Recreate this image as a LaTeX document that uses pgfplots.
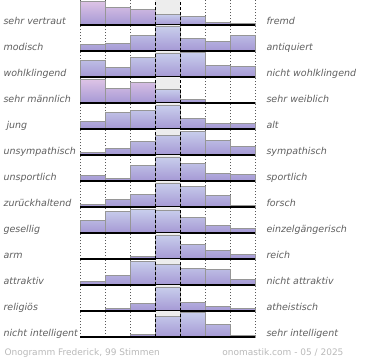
\documentclass[border=0pt]{standalone}
\usepackage{pgfplots}
\pgfplotsset{compat=1.18}
\usepackage{fontspec}
\setmainfont{DejaVu Sans}
\definecolor{barA}{RGB}{200,206,236}
\definecolor{barM}{RGB}{190,195,230}
\definecolor{barB}{RGB}{165,152,212}
\definecolor{pinkA}{RGB}{222,196,230}
\definecolor{pinkM}{RGB}{200,190,228}
\definecolor{midbg}{RGB}{237,237,237}
\definecolor{edge}{RGB}{150,150,150}
\definecolor{lbl}{RGB}{95,95,95}
\definecolor{foot}{RGB}{185,185,185}
\pgfplotsset{rowax/.style={width=175pt,height=26pt,scale only axis,
  xmin=0,xmax=7,ymin=0,ymax=26,hide axis,anchor=south west,clip=false}}
\newcommand{\rowplot}[6]{%
\begin{axis}[rowax, at={(80pt,{-(25+26*(#1-1))*1pt})}]
\addplot[fill=midbg,draw=none] coordinates {(3,0)(3,26)(4,26)(4,0)} \closedcycle;
\foreach \xx in {0,1,2,5,6,7}{
\addplot[gray!70!black,dash pattern=on 1pt off 2pt,line width=0.5pt] coordinates {(\xx,0)(\xx,26)};}
\addplot[ybar,bar width=1,bar shift=0pt,top color=barA,middle color=barM,bottom color=barB,draw=edge,line width=0.6pt] coordinates {#2};
\addplot[ybar,bar width=1,bar shift=0pt,top color=pinkA,middle color=pinkM,bottom color=barB,draw=edge,line width=0.6pt] coordinates {#3};
\addplot[black,dash pattern=on 3pt off 2pt,line width=0.7pt] coordinates {(3,0)(3,26)};
\addplot[black,dash pattern=on 3pt off 2pt,line width=0.7pt] coordinates {(4,0)(4,26)};
\addplot[black,line width=1.3pt] coordinates {#6};
\end{axis}
\node[anchor=base west,text=lbl,font=\itshape\fontsize{9.5}{11}\selectfont] at (0pt,{-(24+26*(#1-1))*1pt}) {#4};
\node[anchor=base west,text=lbl,font=\itshape\fontsize{9.5}{11}\selectfont] at (263pt,{-(24+26*(#1-1))*1pt}) {#5};
}
\begin{document}
\begin{tikzpicture}
\path[use as bounding box] (0,0) rectangle (370pt,-360pt);
\rowplot{1}{(3.5,10.7)(4.5,9)(5.5,2.3)(6.5,1.3)}{(0.5,24)(1.5,17.7)(2.5,15.3)}{sehr vertraut}{fremd}{(0,0)(7,0)}
\rowplot{2}{(0.5,6.3)(1.5,7.7)(2.5,16)(3.5,24.7)(4.5,13)(5.5,10)(6.5,15.3)}{}{modisch}{antiquiert}{(0,0)(7,0)}
\rowplot{3}{(0.5,16.7)(1.5,9.7)(2.5,19.7)(3.5,23.7)(4.5,24.3)(5.5,11.3)(6.5,10.3)}{}{wohlklingend}{nicht wohlklingend}{(0,0)(7,0)}
\rowplot{4}{(3.5,14)(4.5,3.7)(6.5,0.3)}{(0.5,24)(1.5,14.7)(2.5,20.7)}{sehr männlich}{sehr weiblich}{(0,0)(5,0)(5,nan)(6,nan)(6,0)(7,0)}
\rowplot{5}{(0.5,8)(1.5,17)(2.5,19)(3.5,23.3)(4.5,10.3)(5.5,6)(6.5,5.7)}{}{\hspace{3pt}jung}{alt}{(0,0)(7,0)}
\rowplot{6}{(0.5,2.7)(1.5,7)(2.5,13.7)(3.5,19.3)(4.5,23.7)(5.5,14.7)(6.5,8.7)}{}{unsympathisch}{sympathisch}{(0,0)(7,0)}
\rowplot{7}{(0.5,6)(1.5,2.7)(2.5,16)(3.5,24)(4.5,18)(5.5,7.7)(6.5,7)}{}{unsportlich}{sportlich}{(0,0)(7,0)}
\rowplot{8}{(0.5,2.3)(1.5,7.3)(2.5,12.7)(3.5,24)(4.5,20.3)(5.5,11.3)(6.5,2)}{}{zurückhaltend}{forsch}{(0,0)(7,0)}
\rowplot{9}{(0.5,12.3)(1.5,21.3)(2.5,23.3)(3.5,22.7)(4.5,15.3)(5.5,8)(6.5,5)}{}{gesellig}{einzelgängerisch}{(0,0)(7,0)}
\rowplot{10}{(1.5,0.3)(2.5,2.7)(3.5,24)(4.5,14.7)(5.5,8.3)(6.5,4.7)}{}{arm}{reich}{(0,0)(7,0)}
\rowplot{11}{(0.5,4)(1.5,9.7)(2.5,24)(3.5,21)(4.5,16.3)(5.5,15.7)(6.5,5.3)}{}{attraktiv}{nicht attraktiv}{(0,0)(7,0)}
\rowplot{12}{(1.5,3)(2.5,7.3)(3.5,24)(4.5,8.7)(5.5,4.3)(6.5,2.7)}{}{religiös}{atheistisch}{(0,0)(7,0)}
\rowplot{13}{(1.5,1)(2.5,3)(3.5,20.3)(4.5,24.7)(5.5,13)(6.5,1.7)}{}{nicht intelligent}{sehr intelligent}{(0,0)(7,0)}
\node[anchor=base west,text=foot,font=\fontsize{9}{11}\selectfont] at (1pt,-355pt) {Onogramm Frederick, 99 Stimmen};
\node[anchor=base east,text=foot,font=\fontsize{9}{11}\selectfont] at (347pt,-355pt) {onomastik.com - 05 / 2025};
\end{tikzpicture}
\end{document}
